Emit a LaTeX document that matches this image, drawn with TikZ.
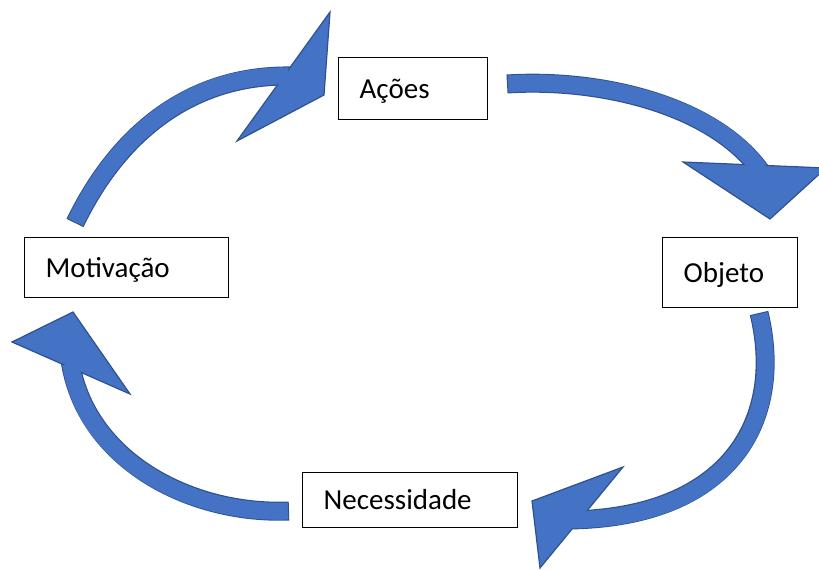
\documentclass[tikz,border=0pt]{standalone}
\usepackage{fontspec}
\setmainfont{Carlito}
\usetikzlibrary{positioning, calc}
\definecolor{arrowfill}{HTML}{4472C4}
\definecolor{arrowedge}{HTML}{2F528F}

\begin{document}
\begin{tikzpicture}[x=1pt, y=-1pt,
    stage/.style={draw, line width=1.4pt, anchor=north west, inner xsep=21pt, inner ysep=0pt,
                  align=left, text height=24pt, text depth=5.3pt, font=\fontsize{29}{34}\selectfont},
    bandedge/.style={draw=arrowedge, line width=19pt},
    bandcore/.style={draw=arrowfill, line width=16.6pt},
    arrowhead/.style={fill=arrowfill, draw=arrowedge, line width=1.2pt}]
                    \useasboundingbox (0,0) rectangle (819,570);

                    % boxes
                    \node[stage, text width=162pt, minimum height=60pt] (mot) at (24,237)  {Motivação};
                    \node[stage, text width=107pt, minimum height=62pt] (aco) at (338,57)  {Ações};
                    \node[stage, text width=93pt,  minimum height=70pt] (obj) at (662,237) {Objeto};
                    \node[stage, text width=173pt, minimum height=55pt] (nec) at (302,472) {Necessidade};

                    % curved arrows: tail, controls, end inside the head
                    \coordinate (s1) at (75,223);  \coordinate (p1) at (115,140); \coordinate (q1) at (185,74);  \coordinate (e1) at (292,76);
                    \coordinate (s2) at (507,84);  \coordinate (p2) at (600,78);  \coordinate (q2) at (715,105); \coordinate (e2) at (762,173);
                    \coordinate (s3) at (759,313); \coordinate (p3) at (785,420); \coordinate (q3) at (730,519); \coordinate (e3) at (566,520);
                    \coordinate (s4) at (289,511); \coordinate (p4) at (190,515); \coordinate (q4) at (85,460);  \coordinate (e4) at (70,360);

                    % heads: base, tip, base
                    \coordinate (a1) at (330,12);  \coordinate (t1) at (324,95);  \coordinate (b1) at (237,141);
                    \coordinate (a2) at (683,162); \coordinate (t2) at (770,219); \coordinate (b2) at (826,168);
                    \coordinate (a3) at (623,467); \coordinate (t3) at (532,501); \coordinate (b3) at (540,568);
                    \coordinate (a4) at (12,342);  \coordinate (t4) at (73,312);  \coordinate (b4) at (130,394);

                    \foreach \i in {1,...,4} {
                        \draw[bandedge] (s\i) .. controls (p\i) and (q\i) .. (e\i);
                        \draw[bandcore, shorten <=1.2pt] (s\i) .. controls (p\i) and (q\i) .. (e\i);
                        \draw[arrowhead] (a\i) -- (t\i) -- (b\i) -- cycle;
                        \draw[bandcore, shorten <=1.2pt, shorten >=4pt] (s\i) .. controls (p\i) and (q\i) .. (e\i);
                    }
\end{tikzpicture}
\end{document}
